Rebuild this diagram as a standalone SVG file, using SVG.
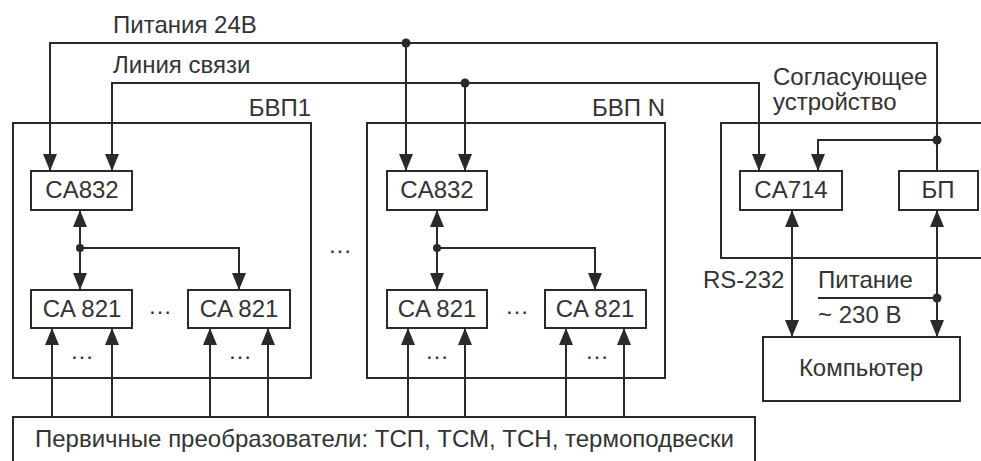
<svg xmlns="http://www.w3.org/2000/svg" width="981" height="461" viewBox="0 0 981 461">
<style>
.box{fill:none;stroke:#2a2a2a;stroke-width:2}
.ln{fill:none;stroke:#2a2a2a;stroke-width:2}
.t{font-family:"Liberation Sans",Arial,sans-serif;font-size:24px;fill:#333}
.c{text-anchor:middle}
.dot{fill:#2a2a2a}
</style>
<defs>
<marker id="ar" markerUnits="userSpaceOnUse" markerWidth="17" markerHeight="14" refX="17" refY="7" orient="auto-start-reverse">
<path d="M0,0 L17,7 L0,14 z" fill="#2a2a2a"/>
</marker>
</defs>
<rect width="981" height="461" fill="#fff"/>

<g id="labels">
<text class="t" x="113" y="33">Питания 24В</text>
<text class="t" x="113" y="73">Линия связи</text>
<text class="t" x="773" y="85">Согласующее</text>
<text class="t" x="773" y="110">устройство</text>
<text class="t" x="340" y="253" text-anchor="middle">…</text>
<text class="t" x="703" y="288">RS-232</text>
<text class="t" x="818" y="288">Питание</text>
<text class="t" x="818" y="323">~ 230 В</text>
</g>

<g id="bvp1">
<rect class="box" x="13" y="123" width="298" height="255"/>
<text class="t" x="311" y="116" text-anchor="end">БВП1</text>
</g>
<g id="bvp1-ca832">
<rect class="box" x="31" y="171" width="101" height="39"/>
<text class="t c" x="82" y="198">CA832</text>
</g>
<g id="bvp1-ca821a">
<rect class="box" x="31" y="290" width="101" height="38"/>
<text class="t c" x="82" y="317">CA 821</text>
</g>
<g id="bvp1-ca821b">
<rect class="box" x="188" y="290" width="102" height="38"/>
<text class="t c" x="239" y="317">CA 821</text>
</g>
<text class="t c" x="160" y="314">…</text>
<text class="t c" x="82" y="359">…</text>
<text class="t c" x="240" y="359">…</text>

<g id="bvpn">
<rect class="box" x="367" y="123" width="298" height="255"/>
<text class="t" x="665" y="116" text-anchor="end">БВП N</text>
</g>
<g id="bvpn-ca832">
<rect class="box" x="387" y="171" width="100" height="39"/>
<text class="t c" x="437" y="198">CA832</text>
</g>
<g id="bvpn-ca821a">
<rect class="box" x="387" y="290" width="100" height="38"/>
<text class="t c" x="437" y="317">CA 821</text>
</g>
<g id="bvpn-ca821b">
<rect class="box" x="545" y="290" width="101" height="38"/>
<text class="t c" x="595" y="317">CA 821</text>
</g>
<text class="t c" x="517" y="314">…</text>
<text class="t c" x="437" y="359">…</text>
<text class="t c" x="597" y="359">…</text>

<g id="matching">
<rect class="box" x="721" y="123" width="280" height="135"/>
</g>
<g id="ca714">
<rect class="box" x="740" y="171" width="102" height="39"/>
<text class="t c" x="791" y="198">CA714</text>
</g>
<g id="bp">
<rect class="box" x="899" y="171" width="79" height="39"/>
<text class="t c" x="938" y="198">БП</text>
</g>
<g id="computer">
<rect class="box" x="763" y="337" width="197" height="64"/>
<text class="t c" x="861" y="376">Компьютер</text>
</g>
<g id="sensors">
<rect class="box" x="13" y="417" width="742" height="60"/>
<text class="t" x="35" y="447">Первичные преобразователи: ТСП, ТСМ, ТСН, термоподвески</text>
</g>

<g id="connectors">
<path class="ln" d="M50,171 V43 H937 V171" marker-start="url(#ar)"/>
<path class="ln" d="M406,43 V171" marker-end="url(#ar)"/>
<path class="ln" d="M937,140 H818 V171" marker-end="url(#ar)"/>
<path class="ln" d="M112,171 V83 H759 V171" marker-start="url(#ar)" marker-end="url(#ar)"/>
<path class="ln" d="M465,83 V171" marker-end="url(#ar)"/>
<circle class="dot" cx="406" cy="43" r="4.5"/>
<circle class="dot" cx="465" cy="83" r="4.5"/>
<circle class="dot" cx="937" cy="140" r="4.5"/>

<path class="ln" d="M80,210 V290" marker-start="url(#ar)" marker-end="url(#ar)"/>
<path class="ln" d="M80,248 H239 V290" marker-end="url(#ar)"/>
<circle class="dot" cx="80" cy="248" r="4"/>
<path class="ln" d="M437,210 V290" marker-start="url(#ar)" marker-end="url(#ar)"/>
<path class="ln" d="M437,248 H595 V290" marker-end="url(#ar)"/>
<circle class="dot" cx="437" cy="248" r="4"/>

<path class="ln" d="M52,417 V328" marker-end="url(#ar)"/>
<path class="ln" d="M112,417 V328" marker-end="url(#ar)"/>
<path class="ln" d="M210,417 V328" marker-end="url(#ar)"/>
<path class="ln" d="M268,417 V328" marker-end="url(#ar)"/>
<path class="ln" d="M408,417 V328" marker-end="url(#ar)"/>
<path class="ln" d="M465,417 V328" marker-end="url(#ar)"/>
<path class="ln" d="M566,417 V328" marker-end="url(#ar)"/>
<path class="ln" d="M624,417 V328" marker-end="url(#ar)"/>

<path class="ln" d="M792,210 V337" marker-start="url(#ar)" marker-end="url(#ar)"/>
<path class="ln" d="M937,210 V337" marker-start="url(#ar)" marker-end="url(#ar)"/>
<path class="ln" d="M818,298 H937"/>
<circle class="dot" cx="937" cy="298" r="4.5"/>
</g>
</svg>
